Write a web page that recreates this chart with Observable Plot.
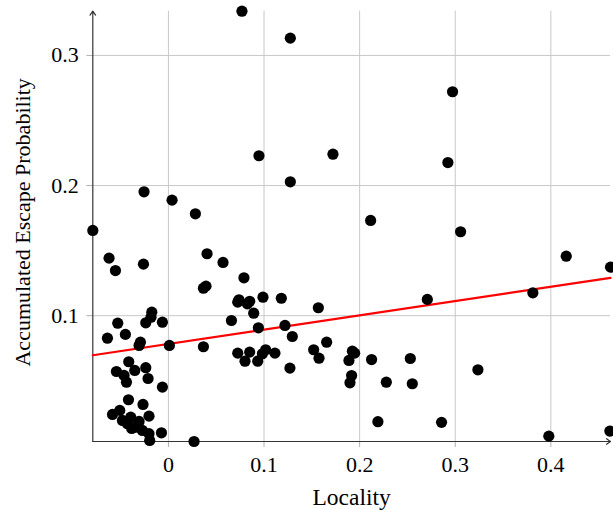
<!DOCTYPE html>
<html><head><meta charset="utf-8">
<script src="https://cdn.jsdelivr.net/npm/d3@7"></script>
<script src="https://cdn.jsdelivr.net/npm/@observablehq/plot@0.6"></script>
<style>html,body{margin:0;padding:0;background:#fff}</style>
</head><body><div id="chart"></div>
<script>
const locality = [
  -0.0791, -0.0255, 0.0038, 0.0282, 0.0404, -0.0621, -0.0554, -0.0261,
  0.0769, 0.1275, 0.0947, 0.1721, 0.1275, 0.2972, 0.2923, 0.2115, 0.3056,
  0.4161, 0.4624, 0.3812, 0.2708, 0.1924, 0.1948, 0.1888, 0.2125, 0.2530,
  0.1916, 0.1899, 0.2279, 0.2551, 0.3237, 0.2191, 0.2857, 0.3979, 0.4617, 0.0268,
  0.0571, 0.0790, 0.0366, 0.0393, 0.0738, 0.0725, 0.0850, 0.0826, 0.0989, 0.1181,
  0.1568, 0.0892, 0.0659, 0.0941, 0.1219, 0.1296, 0.1655, 0.0725, 0.0850, 0.0801,
  0.0934, 0.1017, 0.0983, 0.1114, 0.1519, 0.1575, 0.1271, 0.0366,
  -0.0174, -0.0182, -0.0237, -0.0063, -0.0530, -0.0638, -0.0450, -0.0293, -0.0307,
  0.0010, -0.0415, -0.0544, -0.0464, -0.0439, -0.0352, -0.0237, -0.0213, -0.0063,
  -0.0418, -0.0266, -0.0585, -0.0509, -0.0481, -0.0394, -0.0203, -0.0429, -0.0342,
  -0.0272, -0.0203, -0.0073, -0.0196, -0.0307, -0.0384
];
const escapeProb = [
  0.1655, 0.1952, 0.1888, 0.1783, 0.1476, 0.1442, 0.1347, 0.1396,
  0.3340, 0.3133, 0.2229, 0.2241, 0.2029, 0.2721, 0.2177, 0.1732, 0.1645,
  0.1457, 0.1373, 0.1176, 0.1125, 0.0727, 0.0712, 0.0656, 0.0663, 0.0671,
  0.0540, 0.0484, 0.0489, 0.0477, 0.0584, 0.0185, 0.0180, 0.0074, 0.0113, 0.0033,
  0.1409, 0.1291, 0.1211, 0.1227, 0.1122, 0.1104, 0.1111, 0.1091, 0.1142, 0.1134,
  0.1061, 0.1019, 0.0963, 0.0907, 0.0925, 0.0840, 0.0796, 0.0712, 0.0720, 0.0650,
  0.0650, 0.0738, 0.0707, 0.0712, 0.0738, 0.0673, 0.0597, 0.0761,
  0.1027, 0.0988, 0.0945, 0.0950, 0.0942, 0.0827, 0.0856, 0.0796, 0.0771,
  0.0771, 0.0646, 0.0571, 0.0541, 0.0489, 0.0579, 0.0600, 0.0517, 0.0451,
  0.0354, 0.0318, 0.0241, 0.0272, 0.0195, 0.0220, 0.0228, 0.0170, 0.0143,
  0.0118, 0.0093, 0.0100, 0.0041, 0.0187, 0.0133
];
const xTicks = [0, 0.1, 0.2, 0.3, 0.4];
const yTicks = [0.1, 0.2, 0.3];
const fitLocality = [-0.0791, 0.4624];
const fitEscape = [0.0696, 0.1291];
const xLabel = "Locality";
const yLabel = "Accumulated Escape Probability";

const points = locality.map((x, i) => ({x, y: escapeProb[i]}));
const fit = fitLocality.map((x, i) => ({x, y: fitEscape[i]}));
const xDom = d3.extent(locality);
const yDom = d3.extent(escapeProb);
const font = "'Liberation Serif', serif";
const fs = 22;
const fmt = d => d === 0 ? "0" : String(d);

const chart = Plot.plot({
  width: 613, height: 510,
  marginLeft: 92.3, marginRight: 3, marginTop: 10.7, marginBottom: 69,
  style: {fontFamily: font, fontSize: fs + "px", background: "#fff", color: "#000"},
  x: {domain: xDom, axis: null},
  y: {domain: yDom, axis: null},
  marks: [
    Plot.gridX({ticks: xTicks, stroke: "#c8c8c8", strokeOpacity: 1}),
    Plot.gridY({ticks: yTicks, stroke: "#c8c8c8", strokeOpacity: 1}),
    Plot.axisX({ticks: xTicks, tickSize: 6, tickPadding: 9, stroke: "#b0b0b0", strokeOpacity: 1, tickFormat: fmt, fontSize: fs, fontFamily: font, label: null}),
    Plot.axisY({ticks: yTicks, tickSize: 6, tickPadding: 8, stroke: "#b0b0b0", strokeOpacity: 1, tickFormat: fmt, fontSize: fs, fontFamily: font, label: null}),
    Plot.arrow([0], {x1: xDom[0], y1: yDom[0], x2: xDom[1], y2: yDom[0], stroke: "#333", strokeWidth: 1.2, headLength: 6, headAngle: 70}),
    Plot.arrow([0], {x1: xDom[0], y1: yDom[0], x2: xDom[0], y2: yDom[1], stroke: "#333", strokeWidth: 1.2, headLength: 6, headAngle: 70}),
    Plot.line(fit, {x: "x", y: "y", stroke: "#ff0000", strokeWidth: 2.2}),
    Plot.dot(points, {x: "x", y: "y", r: 5.6, fill: "#000", stroke: "none"}),
    Plot.text([xLabel], {text: d => d, frameAnchor: "bottom", dy: 47, lineAnchor: "top", textAnchor: "middle", fontSize: 23.5, fontFamily: font, fill: "#000"}),
    Plot.text([yLabel], {text: d => d, frameAnchor: "left", rotate: -90, dx: -70, dy: -4, lineAnchor: "middle", textAnchor: "middle", fontSize: fs, fontFamily: font, fill: "#000"})
  ]
});
document.getElementById("chart").appendChild(chart);
</script>
</body></html>
